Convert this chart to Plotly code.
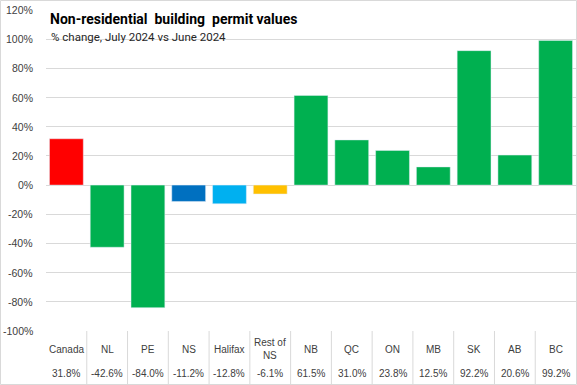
import plotly.graph_objects as go

categories = ["Canada", "NL", "PE", "NS", "Halifax", "Rest of<br>NS", "NB", "QC", "ON", "MB", "SK", "AB", "BC"]
values = [31.8, -42.6, -84.0, -11.2, -12.8, -6.1, 61.5, 31.0, 23.8, 12.5, 92.2, 20.6, 99.2]
value_labels = ["31.8%", "-42.6%", "-84.0%", "-11.2%", "-12.8%", "-6.1%", "61.5%", "31.0%", "23.8%", "12.5%", "92.2%", "20.6%", "99.2%"]
colors = ["#FF0000", "#00B050", "#00B050", "#0070C0", "#00B0F0", "#FFC000",
          "#00B050", "#00B050", "#00B050", "#00B050", "#00B050", "#00B050", "#00B050"]
tick_vals = [-100, -80, -60, -40, -20, 0, 20, 40, 60, 80, 100, 120]
tick_text = [f"{v}%" for v in tick_vals]

W, H = 577, 385
L, R, T, B = 46, 1, 10, 54
pw, ph = W - L - R, H - T - B

def px_x(p):
    return (p - L) / pw

def px_y(p):
    return (H - B - p) / ph

xs = list(range(len(categories)))

fig = go.Figure(go.Bar(x=xs, y=values, marker_color=colors, width=0.83, showlegend=False,
                       hoverinfo="skip"))

font_fam = "Liberation Sans"
txt_color = "#404040"

annotations = []
y_max = max(tick_vals)
# y-axis tick labels placed on the library's y scale (top one pinned to the top of the plot area)
for v, t in zip(tick_vals, tick_text):
    if v == y_max:
        annotations.append(dict(x=px_x(35), y=1, xref="paper", yref="paper", text=t, showarrow=False,
                                xanchor="right", yanchor="middle",
                                font=dict(family=font_fam, size=10.5, color=txt_color)))
    else:
        annotations.append(dict(x=px_x(35), y=v, xref="paper", yref="y", text=t, showarrow=False,
                                xanchor="right", yanchor="middle",
                                font=dict(family=font_fam, size=10.5, color=txt_color)))

for i, (c, v) in enumerate(zip(categories, value_labels)):
    annotations.append(dict(x=i, y=px_y(349), xref="x", yref="paper", text=c, showarrow=False,
                            font=dict(family=font_fam, size=10, color=txt_color), xanchor="center", yanchor="middle"))
    annotations.append(dict(x=i, y=px_y(373), xref="x", yref="paper", text=v, showarrow=False,
                            font=dict(family=font_fam, size=10, color=txt_color), xanchor="center", yanchor="middle"))

annotations.append(dict(x=px_x(48), y=px_y(19), xref="paper", yref="paper", text="<b>Non-residential  building  permit values</b>",
                        showarrow=False, xanchor="left", yanchor="middle",
                        font=dict(family="Roboto", size=14, color="#000000")))
annotations.append(dict(x=px_x(49), y=px_y(37), xref="paper", yref="paper", text="% change, July 2024 vs June 2024",
                        showarrow=False, xanchor="left", yanchor="middle",
                        font=dict(family="Roboto", size=11.5, color="#262626")))

shapes = []
for i in range(len(categories) - 1):
    shapes.append(dict(type="line", xref="x", yref="paper", x0=i + 0.5, x1=i + 0.5,
                       y0=0, y1=px_y(385), line=dict(color="#D9D9D9", width=1)))
# outer frame
shapes.append(dict(type="rect", xref="paper", yref="paper", x0=px_x(0.5), x1=px_x(576.5),
                   y0=px_y(384.5), y1=px_y(0.5), line=dict(color="#D9D9D9", width=1)))

fig.update_layout(
    width=W, height=H,
    margin=dict(l=L, r=R, t=T, b=B),
    plot_bgcolor="white", paper_bgcolor="white",
    bargap=0.17,
    xaxis=dict(range=[-0.5, len(categories) - 0.5], showticklabels=False, showgrid=False,
               zeroline=False, showline=False, ticks=""),
    yaxis=dict(range=[-100, 120.05], tickvals=tick_vals, showticklabels=False, showgrid=True,
               gridcolor="#D9D9D9", gridwidth=1, zeroline=True, zerolinecolor="#D9D9D9", zerolinewidth=1,
               showline=False, ticks=""),
    annotations=annotations,
    shapes=shapes,
)

post = "document.body.style.margin='0';document.body.style.overflow='hidden';"

fig.write_html("out.html", config={"displayModeBar": False}, post_script=post)
